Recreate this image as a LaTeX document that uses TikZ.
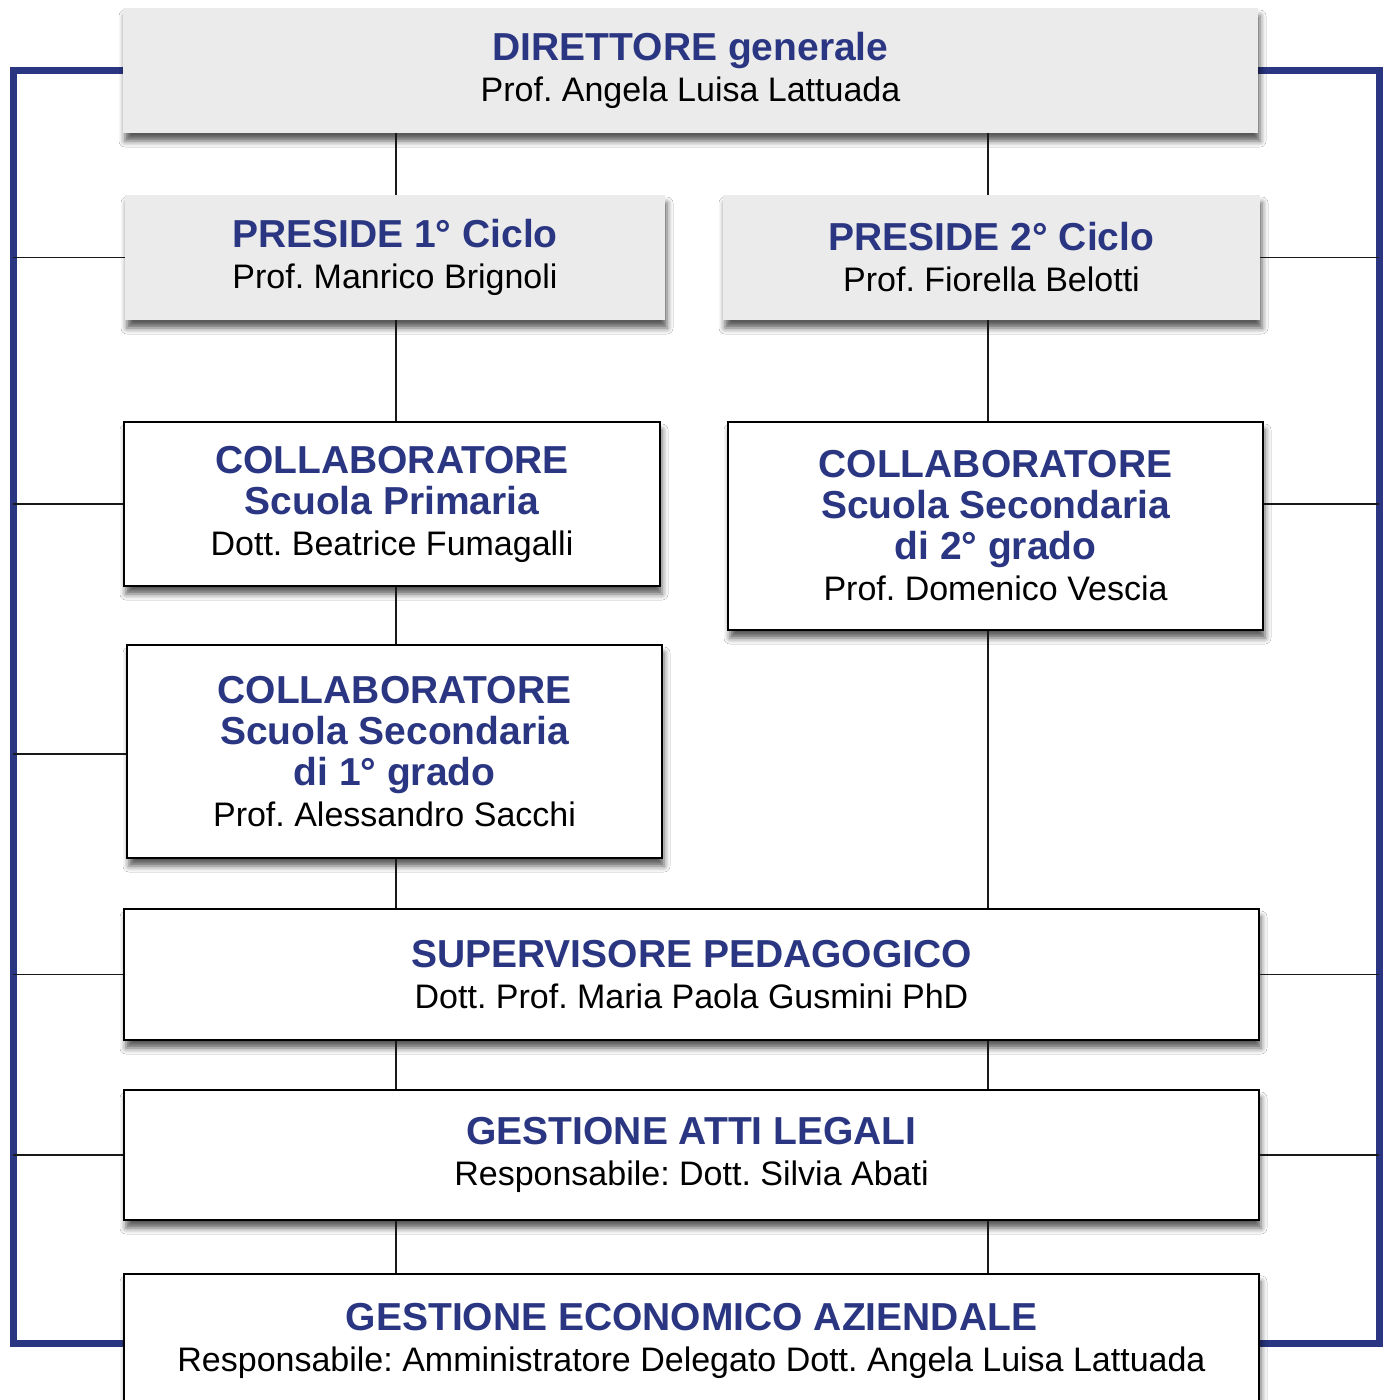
\documentclass[tikz,border=0pt]{standalone}
\usepackage{fontspec}
\setmainfont{Liberation Sans}
\frenchspacing
\usetikzlibrary{shadows.blur,backgrounds}
\definecolor{blu}{RGB}{42,54,130}
\definecolor{grigio}{RGB}{235,235,235}
\newcommand{\hd}{\fontsize{39}{41}\selectfont\bfseries\color{blu}}
\newcommand{\bd}{\fontsize{34}{41}\selectfont\mdseries\color{black}}
\tikzset{
  boxbase/.style={inner sep=0pt, align=center, font=\hd,
    blur shadow={shadow xshift=2pt, shadow yshift=-8pt, shadow blur radius=6pt, shadow opacity=65}},
  graybox/.style={boxbase, fill=grigio},
  whitebox/.style={boxbase, fill=white, draw=black, line width=1.6pt},
  conn/.style={draw=black!90, line width=1.6pt},
  frame/.style={draw=blu, line width=7pt, line join=miter}
}
\begin{document}
\begin{tikzpicture}[x=1pt,y=-1pt]
\useasboundingbox (0,0) rectangle (1390,1400);
\coordinate (L) at (396,0);
\coordinate (R) at (988,0);
\coordinate (FL) at (13,0);
\coordinate (FR) at (1379,0);
\coordinate (BOT) at (0,1343);

\node[graybox, minimum width=1135pt, minimum height=125pt] (dir) at (690.5,70.5)
  {DIRETTORE generale\\\bd Prof. Angela Luisa Lattuada};
\node[graybox, minimum width=540pt, minimum height=125pt] (p1) at (395,257.5)
  {PRESIDE 1° Ciclo\\\bd Prof. Manrico Brignoli};
\node[graybox, minimum width=537pt, minimum height=125pt] (p2) at (991.5,257.5)
  {PRESIDE 2° Ciclo\\\bd Prof. Fiorella Belotti};
\node[whitebox, minimum width=536pt, minimum height=164pt] (cp) at (392,504)
  {COLLABORATORE\\Scuola Primaria\\\bd Dott. Beatrice Fumagalli};
\node[whitebox, minimum width=535pt, minimum height=208pt] (c2) at (995.5,526)
  {COLLABORATORE\\Scuola Secondaria\\di 2° grado\\\bd Prof. Domenico Vescia};
\node[whitebox, minimum width=535pt, minimum height=213pt] (c1) at (394.5,751.5)
  {COLLABORATORE\\Scuola Secondaria\\di 1° grado\\\bd Prof. Alessandro Sacchi};
\node[whitebox, minimum width=1135pt, minimum height=131pt] (sup) at (691.5,974.5)
  {SUPERVISORE PEDAGOGICO\\\bd Dott. Prof. Maria Paola Gusmini PhD};
\node[whitebox, minimum width=1135pt, minimum height=130pt] (att) at (691.5,1155)
  {GESTIONE ATTI LEGALI\\\bd Responsabile: Dott. Silvia Abati};
\node[whitebox, minimum width=1135pt, minimum height=134pt, anchor=north] (eco) at (691.5,1273)
  {GESTIONE ECONOMICO AZIENDALE\\\bd Responsabile: Amministratore Delegato Dott. Angela Luisa Lattuada};

\begin{scope}[on background layer]
  \fill[white] (0,0) rectangle (1390,1400);
  \draw[frame] (dir.west) -- (dir.west -| FL) -- (FL |- BOT) -- (eco.west |- BOT);
  \draw[frame] (dir.east) -- (dir.east -| FR) -- (FR |- BOT) -- (eco.east |- BOT);
\end{scope}

% vertical connectors
\draw[conn] (dir.south -| L) -- (p1.north -| L);
\draw[conn] (p1.south -| L) -- (cp.north -| L);
\draw[conn] (cp.south -| L) -- (c1.north -| L);
\draw[conn] (c1.south -| L) -- (sup.north -| L);
\draw[conn] (sup.south -| L) -- (att.north -| L);
\draw[conn] (att.south -| L) -- (eco.north -| L);
\draw[conn] (dir.south -| R) -- (p2.north -| R);
\draw[conn] (p2.south -| R) -- (c2.north -| R);
\draw[conn] (c2.south -| R) -- (sup.north -| R);
\draw[conn] (sup.south -| R) -- (att.north -| R);
\draw[conn] (att.south -| R) -- (eco.north -| R);

% horizontal connectors to the frame
\draw[conn] (p1.west -| FL) -- (p1.west);
\draw[conn] (cp.west -| FL) -- (cp.west);
\draw[conn] ([yshift=-2.5pt]c1.west -| FL) -- ([yshift=-2.5pt]c1.west);
\draw[conn] (sup.west -| FL) -- (sup.west);
\draw[conn] (att.west -| FL) -- (att.west);
\draw[conn] (p2.east) -- (p2.east -| FR);
\draw[conn] (c2.east |- cp.east) -- (cp.east -| FR);
\draw[conn] (sup.east) -- (sup.east -| FR);
\draw[conn] (att.east) -- (att.east -| FR);
\end{tikzpicture}
\end{document}
